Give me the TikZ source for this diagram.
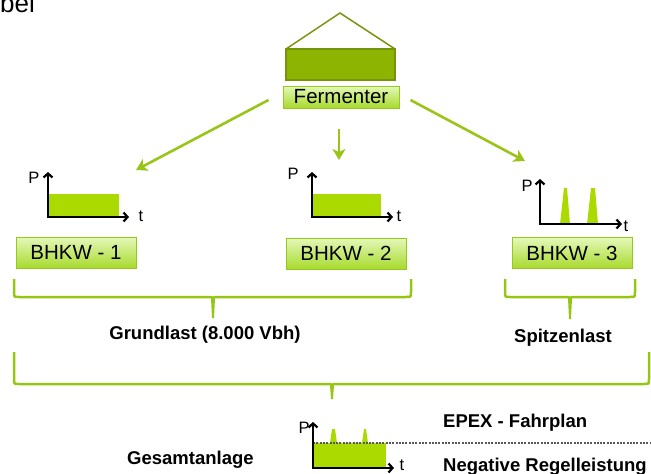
\documentclass[tikz,border=0pt]{standalone}
\usepackage{fontspec}
\setmainfont{Liberation Sans}
\usetikzlibrary{arrows.meta}
\definecolor{arrowgreen}{RGB}{155,196,24}
\definecolor{bracegreen}{RGB}{150,198,20}
\definecolor{fillgreen}{RGB}{170,218,0}
\definecolor{fermdark}{RGB}{140,180,0}
\definecolor{fermedge}{RGB}{118,148,10}
\definecolor{boxtop}{RGB}{228,248,185}
\definecolor{boxbot}{RGB}{168,218,45}
\definecolor{boxedge}{RGB}{150,200,30}
\begin{document}
\begin{tikzpicture}[x=1pt,y=-1pt,
  gbox/.style={draw=boxedge, line width=1pt, top color=boxtop, bottom color=boxbot,
    minimum width=120pt, minimum height=31pt, inner sep=0pt,
    font=\fontsize{20.5}{22}\selectfont},
  flow/.style={draw=arrowgreen, line width=2.6pt,
    -{Stealth[length=11pt,width=13pt,inset=3pt]}},
  axis/.style={line width=2.2pt, line join=miter,
    {Straight Barb[length=4pt,width=9pt]}-{Straight Barb[length=4pt,width=9pt]}},
  axlbl/.style={inner sep=0pt, font=\fontsize{16.5}{18}\selectfont},
  bold/.style={inner sep=0pt, font=\fontsize{18.5}{20}\selectfont\bfseries},
  brace/.style={draw=bracegreen, line width=2.5pt, line join=round},
  spike/.style={fill=fillgreen, draw=none},
]
\useasboundingbox (0,0) rectangle (651,474);

% cut-off text at top left
\node[anchor=base west, inner sep=0pt, font=\fontsize{26}{28}\selectfont] (bel) at (0,12) {bel};

% Fermenter house
\draw[draw=fermedge, line width=1.5pt] (286,49) -- (340,13) -- (395,49);
\node[draw=fermedge, fill=fermdark, line width=2pt, minimum width=109pt, minimum height=31pt, inner sep=0pt] (tank) at (340.5,64.5) {};
\node[gbox, minimum width=116pt, minimum height=22pt] (ferm) at (341,97) {Fermenter};

% arrow end coordinates
\coordinate (e1) at (136,170);
\coordinate (e2) at (339,160);
\coordinate (e3) at (525,161);
\draw[flow] ([shift={(-14,3)}]ferm.west) -- (e1);
\draw[flow] ([shift={(-2,20)}]ferm.south) -- (e2);
\draw[flow] ([shift={(11,3)}]ferm.east) -- (e3);

% chart 1
\fill[fillgreen] (49,194) rectangle (119,217);
\draw[axis] (48,172) -- (48,217) -- (129,217);
\node[axlbl] (p1) at (34,178) {P};
\node[axlbl] (t1) at (141,216) {t};

% chart 2
\fill[fillgreen] (313,194) rectangle (381,217);
\draw[axis] (312,172) -- (312,217) -- (393,217);
\node[axlbl] (p2) at (293,174) {P};
\node[axlbl] (t2) at (399,216) {t};

% chart 3
\fill[spike] (560,224) -- (564,188) -- (567,188) -- (570,224) -- cycle;
\fill[spike] (587,224) -- (591,188) -- (595,188) -- (598,224) -- cycle;
\draw[axis] (540,179) -- (540,224) -- (622,224);
\node[axlbl] (p3) at (527,186) {P};
\node[axlbl] (t3) at (626,226) {t};

% BHKW boxes
\node[gbox] (b1) at (76,252.5) {BHKW - 1};
\node[gbox] (b2) at (346,253.5) {BHKW - 2};
\node[gbox] (b3) at (572,253) {BHKW - 3};

% brace Grundlast
\draw[brace] (14,279) -- (14,292) .. controls (14,297) .. (19,297) -- (208,297) .. controls (213,297) .. (213,302)
  .. controls (213,297) .. (218,297) -- (406,297) .. controls (411,297) .. (411,292) -- (411,279);
\fill[bracegreen] (211,298) -- (215,298) -- (214,318) -- (212,318) -- cycle;
% brace Spitzenlast
\draw[brace] (505,279) -- (505,292) .. controls (505,297) .. (510,297) -- (565,297) .. controls (570,297) .. (570,302)
  .. controls (570,297) .. (575,297) -- (630,297) .. controls (635,297) .. (635,292) -- (635,279);
\fill[bracegreen] (568,298) -- (572,298) -- (571,319) -- (569,319) -- cycle;

\node[bold, anchor=base] (grund) at (205,339) {Grundlast (8.000 Vbh)};
\node[bold, anchor=base] (spitz) at (563,342) {Spitzenlast};

% big brace
\draw[brace] (14,352) -- (14,379) .. controls (14,384) .. (19,384) -- (327,384) .. controls (332,384) .. (332,389)
  .. controls (332,384) .. (337,384) -- (644,384) .. controls (649,384) .. (649,379) -- (649,352);
\fill[bracegreen] (330,385) -- (334,385) -- (333,399) -- (331,399) -- cycle;

% Gesamtanlage chart
\fill[fillgreen] (314,443) rectangle (386,468);
\fill[spike] (330,443) -- (332,429) -- (335,429) -- (337,443) -- cycle;
\fill[spike] (362,443) -- (364,429) -- (366,429) -- (368,443) -- cycle;
\draw[gray!70!black, line width=1.3pt, dash pattern=on 2pt off 1.3pt] (313,443) -- (651,443);
\draw[axis] (313,422) -- (313,468) -- (394,468);
\node[axlbl] (p4) at (304,428) {P};
\node[axlbl] (t4) at (402,465.5) {t};

\node[bold, anchor=base west] (epex) at (443,427) {EPEX - Fahrplan};
\node[bold, anchor=base west] (neg) at (443,471) {Negative Regelleistung};
\node[bold, anchor=base west] (ges) at (127,464) {Gesamtanlage};
\end{tikzpicture}
\end{document}
